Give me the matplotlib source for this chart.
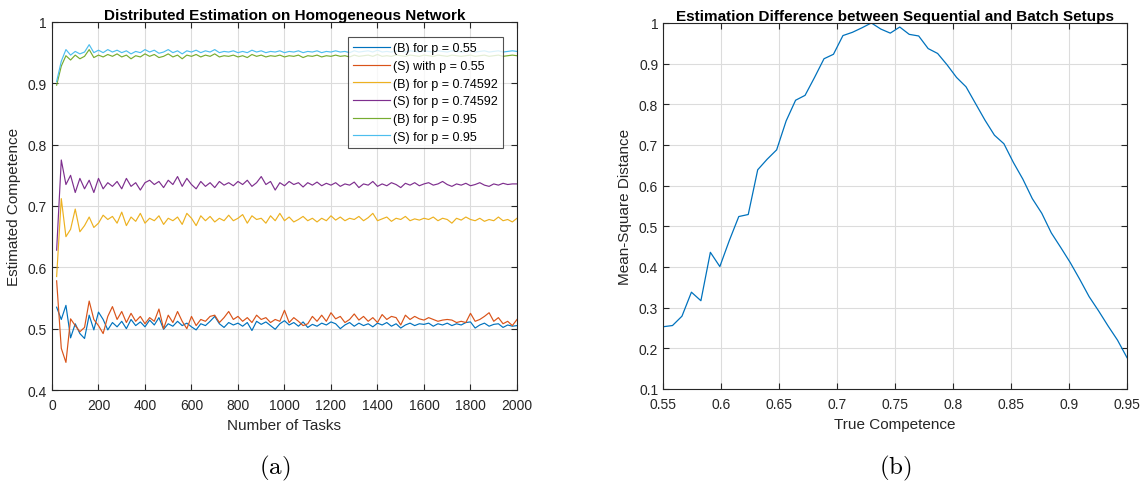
import matplotlib
matplotlib.use("Agg")
import matplotlib.pyplot as plt
import matplotlib.ticker as ticker

plt.rcParams["font.family"] = ["Liberation Sans", "DejaVu Sans"]
plt.rcParams["mathtext.fontset"] = "cm"

# ---- (a) distributed estimation, one value every 20 tasks ----
tasks = list(range(20, 2001, 20))

b_055 = [0.535, 0.515, 0.538, 0.485, 0.508, 0.492, 0.484, 0.522, 0.498, 0.527,
         0.515, 0.498, 0.510, 0.503, 0.512, 0.500, 0.515, 0.505, 0.511, 0.503,
         0.514, 0.506, 0.518, 0.499, 0.508, 0.504, 0.512, 0.505, 0.509, 0.503,
         0.498, 0.508, 0.505, 0.512, 0.520, 0.508, 0.502, 0.510, 0.506, 0.509,
         0.504, 0.510, 0.497, 0.512, 0.507, 0.511, 0.505, 0.499, 0.508, 0.513,
         0.506, 0.510, 0.504, 0.511, 0.502, 0.507, 0.504, 0.509, 0.506, 0.511,
         0.508, 0.500, 0.506, 0.510, 0.504, 0.509, 0.505, 0.508, 0.503, 0.509,
         0.506, 0.510, 0.504, 0.508, 0.501, 0.506, 0.509, 0.505, 0.508, 0.507,
         0.509, 0.504, 0.508, 0.506, 0.509, 0.505, 0.508, 0.506, 0.510, 0.511,
         0.501, 0.506, 0.509, 0.504, 0.507, 0.508, 0.502, 0.506, 0.504, 0.505]

s_055 = [0.578, 0.468, 0.445, 0.516, 0.505, 0.495, 0.502, 0.545, 0.515, 0.505,
         0.492, 0.520, 0.536, 0.515, 0.528, 0.510, 0.525, 0.512, 0.520, 0.508,
         0.518, 0.512, 0.532, 0.500, 0.522, 0.510, 0.528, 0.512, 0.500, 0.520,
         0.505, 0.515, 0.512, 0.520, 0.522, 0.510, 0.518, 0.528, 0.515, 0.520,
         0.512, 0.518, 0.510, 0.522, 0.515, 0.518, 0.510, 0.515, 0.512, 0.530,
         0.510, 0.518, 0.512, 0.505, 0.508, 0.520, 0.512, 0.522, 0.512, 0.526,
         0.516, 0.520, 0.510, 0.515, 0.524, 0.514, 0.520, 0.512, 0.518, 0.510,
         0.523, 0.515, 0.520, 0.518, 0.506, 0.522, 0.515, 0.520, 0.516, 0.514,
         0.518, 0.515, 0.512, 0.514, 0.515, 0.514, 0.510, 0.512, 0.510, 0.525,
         0.512, 0.515, 0.520, 0.526, 0.512, 0.518, 0.508, 0.512, 0.505, 0.515]

b_075 = [0.585, 0.712, 0.650, 0.662, 0.695, 0.658, 0.668, 0.682, 0.665, 0.672,
         0.685, 0.678, 0.683, 0.672, 0.690, 0.668, 0.682, 0.675, 0.688, 0.672,
         0.680, 0.676, 0.684, 0.670, 0.680, 0.676, 0.682, 0.670, 0.688, 0.680,
         0.668, 0.684, 0.676, 0.683, 0.674, 0.680, 0.676, 0.685, 0.676, 0.680,
         0.686, 0.672, 0.684, 0.678, 0.680, 0.672, 0.684, 0.676, 0.688, 0.676,
         0.682, 0.674, 0.678, 0.683, 0.676, 0.680, 0.674, 0.680, 0.676, 0.684,
         0.677, 0.682, 0.676, 0.680, 0.678, 0.683, 0.676, 0.681, 0.688, 0.676,
         0.679, 0.682, 0.675, 0.680, 0.678, 0.683, 0.676, 0.679, 0.677, 0.680,
         0.678, 0.682, 0.676, 0.680, 0.678, 0.672, 0.680, 0.677, 0.682, 0.678,
         0.676, 0.680, 0.675, 0.678, 0.676, 0.682, 0.676, 0.678, 0.674, 0.680]

s_075 = [0.628, 0.775, 0.735, 0.750, 0.722, 0.745, 0.728, 0.742, 0.722, 0.745,
         0.728, 0.738, 0.732, 0.740, 0.728, 0.745, 0.732, 0.738, 0.726, 0.738,
         0.742, 0.735, 0.740, 0.730, 0.742, 0.735, 0.748, 0.732, 0.745, 0.735,
         0.728, 0.740, 0.732, 0.738, 0.730, 0.740, 0.734, 0.738, 0.733, 0.740,
         0.735, 0.742, 0.732, 0.738, 0.748, 0.735, 0.740, 0.726, 0.738, 0.733,
         0.740, 0.735, 0.738, 0.731, 0.738, 0.734, 0.739, 0.733, 0.737, 0.734,
         0.738, 0.732, 0.736, 0.734, 0.739, 0.730, 0.736, 0.734, 0.740, 0.732,
         0.736, 0.733, 0.738, 0.735, 0.730, 0.737, 0.734, 0.738, 0.733, 0.736,
         0.738, 0.734, 0.736, 0.740, 0.735, 0.732, 0.736, 0.734, 0.737, 0.733,
         0.735, 0.738, 0.734, 0.732, 0.736, 0.734, 0.737, 0.735, 0.736, 0.736]

b_095 = [0.897, 0.928, 0.945, 0.938, 0.946, 0.940, 0.944, 0.955, 0.942, 0.946,
         0.943, 0.947, 0.944, 0.948, 0.943, 0.946, 0.940, 0.945, 0.943, 0.948,
         0.944, 0.947, 0.942, 0.944, 0.948, 0.943, 0.946, 0.940, 0.946, 0.944,
         0.947, 0.943, 0.946, 0.944, 0.948, 0.943, 0.945, 0.944, 0.946, 0.943,
         0.945, 0.942, 0.947, 0.944, 0.946, 0.943, 0.945, 0.944, 0.946, 0.943,
         0.945, 0.944, 0.946, 0.942, 0.945, 0.944, 0.946, 0.943, 0.945, 0.944,
         0.946, 0.944, 0.945, 0.943, 0.946, 0.944, 0.945, 0.946, 0.944, 0.947,
         0.944, 0.945, 0.944, 0.946, 0.945, 0.944, 0.946, 0.945, 0.944, 0.946,
         0.945, 0.944, 0.946, 0.945, 0.944, 0.946, 0.945, 0.944, 0.945, 0.946,
         0.944, 0.945, 0.946, 0.944, 0.945, 0.946, 0.944, 0.945, 0.946, 0.945]

s_095 = [0.903, 0.936, 0.955, 0.946, 0.952, 0.948, 0.951, 0.963, 0.950, 0.954,
         0.950, 0.955, 0.951, 0.954, 0.950, 0.953, 0.948, 0.952, 0.950, 0.955,
         0.951, 0.954, 0.949, 0.951, 0.955, 0.950, 0.953, 0.948, 0.953, 0.951,
         0.954, 0.950, 0.953, 0.951, 0.955, 0.950, 0.952, 0.951, 0.953, 0.950,
         0.952, 0.950, 0.954, 0.951, 0.953, 0.950, 0.952, 0.951, 0.953, 0.950,
         0.952, 0.951, 0.953, 0.950, 0.952, 0.951, 0.953, 0.950, 0.952, 0.951,
         0.953, 0.951, 0.952, 0.950, 0.953, 0.951, 0.952, 0.953, 0.951, 0.954,
         0.951, 0.952, 0.951, 0.953, 0.952, 0.951, 0.953, 0.952, 0.951, 0.953,
         0.952, 0.951, 0.953, 0.952, 0.951, 0.953, 0.952, 0.951, 0.952, 0.953,
         0.951, 0.952, 0.953, 0.951, 0.952, 0.953, 0.951, 0.952, 0.953, 0.952]

labels_a = ["(B) for p = 0.55", "(S) with p = 0.55", "(B) for p = 0.74592",
            "(S) for p = 0.74592", "(B) for p = 0.95", "(S) for p = 0.95"]
colors_a = ["#0072BD", "#D95319", "#EDB120", "#7E2F8E", "#77AC30", "#4DBEEE"]

# ---- (b) mean-square distance vs true competence (50 points) ----
competence = [0.55 + 0.4 * i / 49 for i in range(50)]
msd = [0.253, 0.256, 0.279, 0.338, 0.317, 0.436, 0.401, 0.465, 0.524, 0.529,
       0.639, 0.665, 0.688, 0.759, 0.810, 0.822, 0.866, 0.912, 0.923, 0.969,
       0.977, 0.988, 1.000, 0.985, 0.975, 0.990, 0.972, 0.968, 0.937, 0.925,
       0.897, 0.866, 0.843, 0.802, 0.761, 0.724, 0.703, 0.657, 0.616, 0.568,
       0.532, 0.484, 0.448, 0.411, 0.370, 0.327, 0.292, 0.255, 0.220, 0.177]

fig = plt.figure(figsize=(11.4, 4.89), dpi=100)
ax1 = fig.add_axes([0.0456, 0.2004, 0.4079, 0.7526])
ax2 = fig.add_axes([0.5816, 0.2025, 0.4070, 0.7485])

series = [b_055, s_055, b_075, s_075, b_095, s_095]
for vals, lab, col in zip(series, labels_a, colors_a):
    ax1.plot(tasks, vals, color=col, lw=0.85, label=lab)

ax2.plot(competence, msd, color="#0072BD", lw=0.9)

fmt = ticker.FuncFormatter(lambda v, _: f"{v:g}")
for ax in (ax1, ax2):
    ax.grid(True, color="#dcdcdc", lw=0.8)
    ax.set_axisbelow(True)
    ax.tick_params(direction="in", top=True, right=True, labelsize=10,
                   color="#262626", labelcolor="#262626", length=4)
    ax.tick_params(axis="x", pad=6)
    for s in ax.spines.values():
        s.set_color("#262626")
        s.set_linewidth(0.8)
    ax.yaxis.set_major_formatter(fmt)
    ax.xaxis.set_major_formatter(fmt)

ax1.set_xlim(0, 2000)
ax1.set_ylim(0.4, 1.0)
ax1.set_xticks(range(0, 2001, 200))
ax1.set_yticks([0.4, 0.5, 0.6, 0.7, 0.8, 0.9, 1.0])
ax1.set_xlabel("Number of Tasks", fontsize=11, color="#262626", labelpad=4)
ax1.set_ylabel("Estimated Competence", fontsize=11, color="#262626", labelpad=5)
ax1.set_title("Distributed Estimation on Homogeneous Network",
              fontsize=11, fontweight="bold", pad=2)
leg = ax1.legend(loc="upper right", bbox_to_anchor=(0.97, 0.958), fontsize=9,
                 frameon=True, fancybox=False, edgecolor="#262626",
                 handlelength=2.9, handletextpad=0.3, borderpad=0.4,
                 labelspacing=0.45, borderaxespad=0)
leg.get_frame().set_linewidth(0.8)

ax2.set_xlim(0.55, 0.95)
ax2.set_ylim(0.1, 1.0)
ax2.set_xticks([0.55, 0.6, 0.65, 0.7, 0.75, 0.8, 0.85, 0.9, 0.95])
ax2.set_yticks([0.1, 0.2, 0.3, 0.4, 0.5, 0.6, 0.7, 0.8, 0.9, 1.0])
ax2.set_xlabel("True Competence", fontsize=11, color="#262626", labelpad=4)
ax2.set_ylabel("Mean-Square Distance", fontsize=11, color="#262626", labelpad=5)
ax2.set_title("Estimation Difference between Sequential and Batch Setups",
              fontsize=11, fontweight="bold", pad=2)

fig.text(0.2412, 0.042, r"$\mathrm{(a)}$", fontsize=18, ha="center", va="center")
fig.text(0.7851, 0.042, r"$\mathrm{(b)}$", fontsize=18, ha="center", va="center")

fig.savefig("out.png", dpi=100)
